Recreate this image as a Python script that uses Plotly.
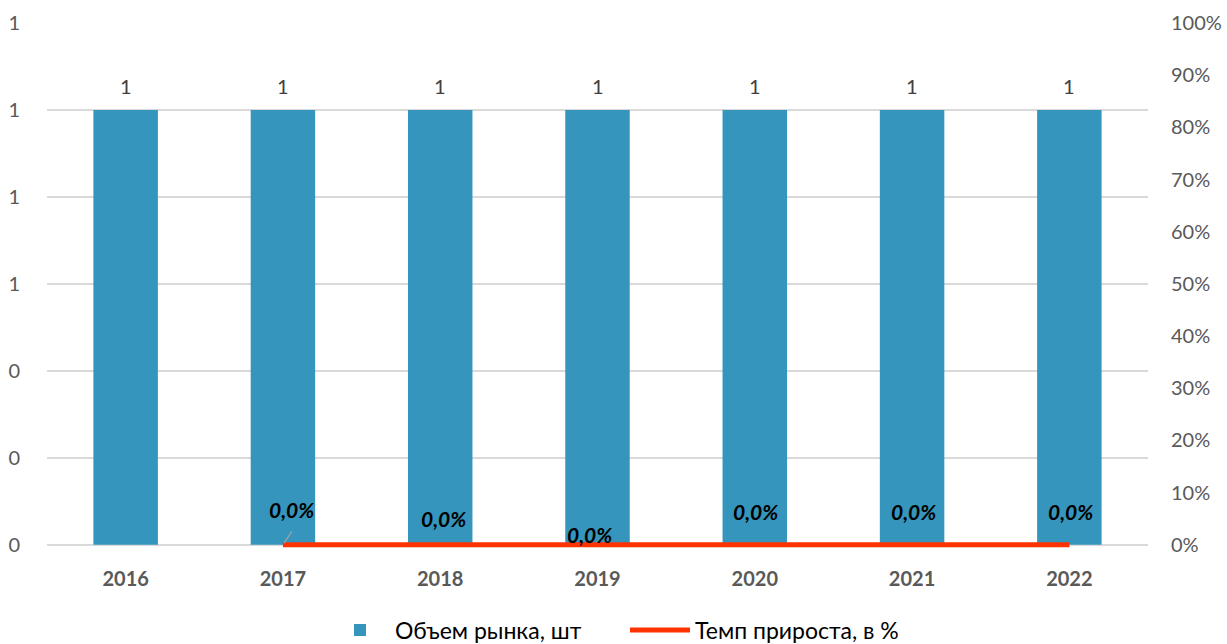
import plotly.graph_objects as go

years = ["2016", "2017", "2018", "2019", "2020", "2021", "2022"]
market_volume = [1, 1, 1, 1, 1, 1, 1]
growth_years = ["2017", "2018", "2019", "2020", "2021", "2022"]
growth_rate = [0.0, 0.0, 0.0, 0.0, 0.0, 0.0]
growth_labels = ["0,0%", "0,0%", "0,0%", "0,0%", "0,0%", "0,0%"]
left_ticks = [0, 0.2, 0.4, 0.6, 0.8, 1.0, 1.2]
right_ticks = [0, 0.1, 0.2, 0.3, 0.4, 0.5, 0.6, 0.7, 0.8, 0.9, 1.0]
right_tick_text = ["0%", "10%", "20%", "30%", "40%", "50%", "60%", "70%", "80%", "90%", "100%"]
label_shift = [(9, 35), (3, 26), (-8, 10), (1, 33), (1, 33), (1, 33)]

FONT = "Lato, Liberation Sans, sans-serif"
PAD = 0.01  # small padding below zero so the thick zero-level line is not clipped

fig = go.Figure()
fig.add_trace(go.Bar(
    x=years, y=market_volume, name="Объем рынка, шт",
    marker=dict(color="#3595BC", line=dict(width=0)),
    width=0.41,
))
fig.add_trace(go.Scatter(
    x=growth_years, y=growth_rate, name="Темп прироста, в %",
    mode="lines", line=dict(color="#FF3300", width=5),
    yaxis="y2", cliponaxis=False,
))

# value labels above bars
for i, (yr, v) in enumerate(zip(years, market_volume)):
    fig.add_annotation(
        x=i, y=v, xref="x", yref="y", text=str(v),
        showarrow=False, yshift=24,
        font=dict(size=20, color="#404040", family=FONT),
    )

for (yr, val, lab, (dx, dy)) in zip(growth_years, growth_rate, growth_labels, label_shift):
    fig.add_annotation(
        x=years.index(yr), y=val, xref="x", yref="y2", text="<b><i>" + lab + "</i></b>",
        showarrow=False, xshift=dx, yshift=dy,
        font=dict(size=21, color="#000000", family=FONT),
    )
# leader line for the 2017 label
fig.add_annotation(
    x=years.index(growth_years[0]), y=growth_rate[0], xref="x", yref="y2", text="",
    showarrow=True, arrowhead=0, arrowwidth=1.2, arrowcolor="#A6A6A6",
    ax=10, ay=-15, standoff=2,
)

fig.update_layout(
    width=1227, height=644,
    margin=dict(l=47, r=79, t=23, b=93.8, autoexpand=False),
    plot_bgcolor="white", paper_bgcolor="white",
    font=dict(family=FONT, size=20, color="#595959"),
    bargap=0.59,
    showlegend=True,
    legend=dict(orientation="h", xref="container", yref="container",
                x=325 / 1227, xanchor="left", y=14 / 644, yanchor="middle",
                entrywidth=225, entrywidthmode="pixels",
                font=dict(size=23, color="#000000", family=FONT), itemwidth=60),
    xaxis=dict(type="category", range=[-0.5, len(years) - 0.5],
               showgrid=False, showline=False, ticks="",
               tickfont=dict(size=20, color="#595959", family=FONT),
               ticklabelstandoff=15),
    yaxis=dict(range=[-PAD * 1.2, 1.2], tickvals=left_ticks, tickformat=".0f",
               showgrid=True, gridcolor="#D9D9D9", gridwidth=1.5,
               zeroline=True, zerolinecolor="#D9D9D9", zerolinewidth=1.5,
               showline=False, ticks="", ticklabelstandoff=26,
               tickfont=dict(size=20, color="#595959", family=FONT)),
    yaxis2=dict(range=[-PAD, 1.0], tickvals=right_ticks, ticktext=right_tick_text,
                overlaying="y", side="right", showgrid=False, zeroline=False,
                showline=False, ticks="", ticklabelstandoff=22,
                tickfont=dict(size=20, color="#595959", family=FONT)),
)
fig.update_xaxes(tickprefix="<b>", ticksuffix="</b>")
fig.write_html("out.html", config={"displayModeBar": False},
               post_script="document.body.style.margin='0';document.body.style.overflow='hidden';")
